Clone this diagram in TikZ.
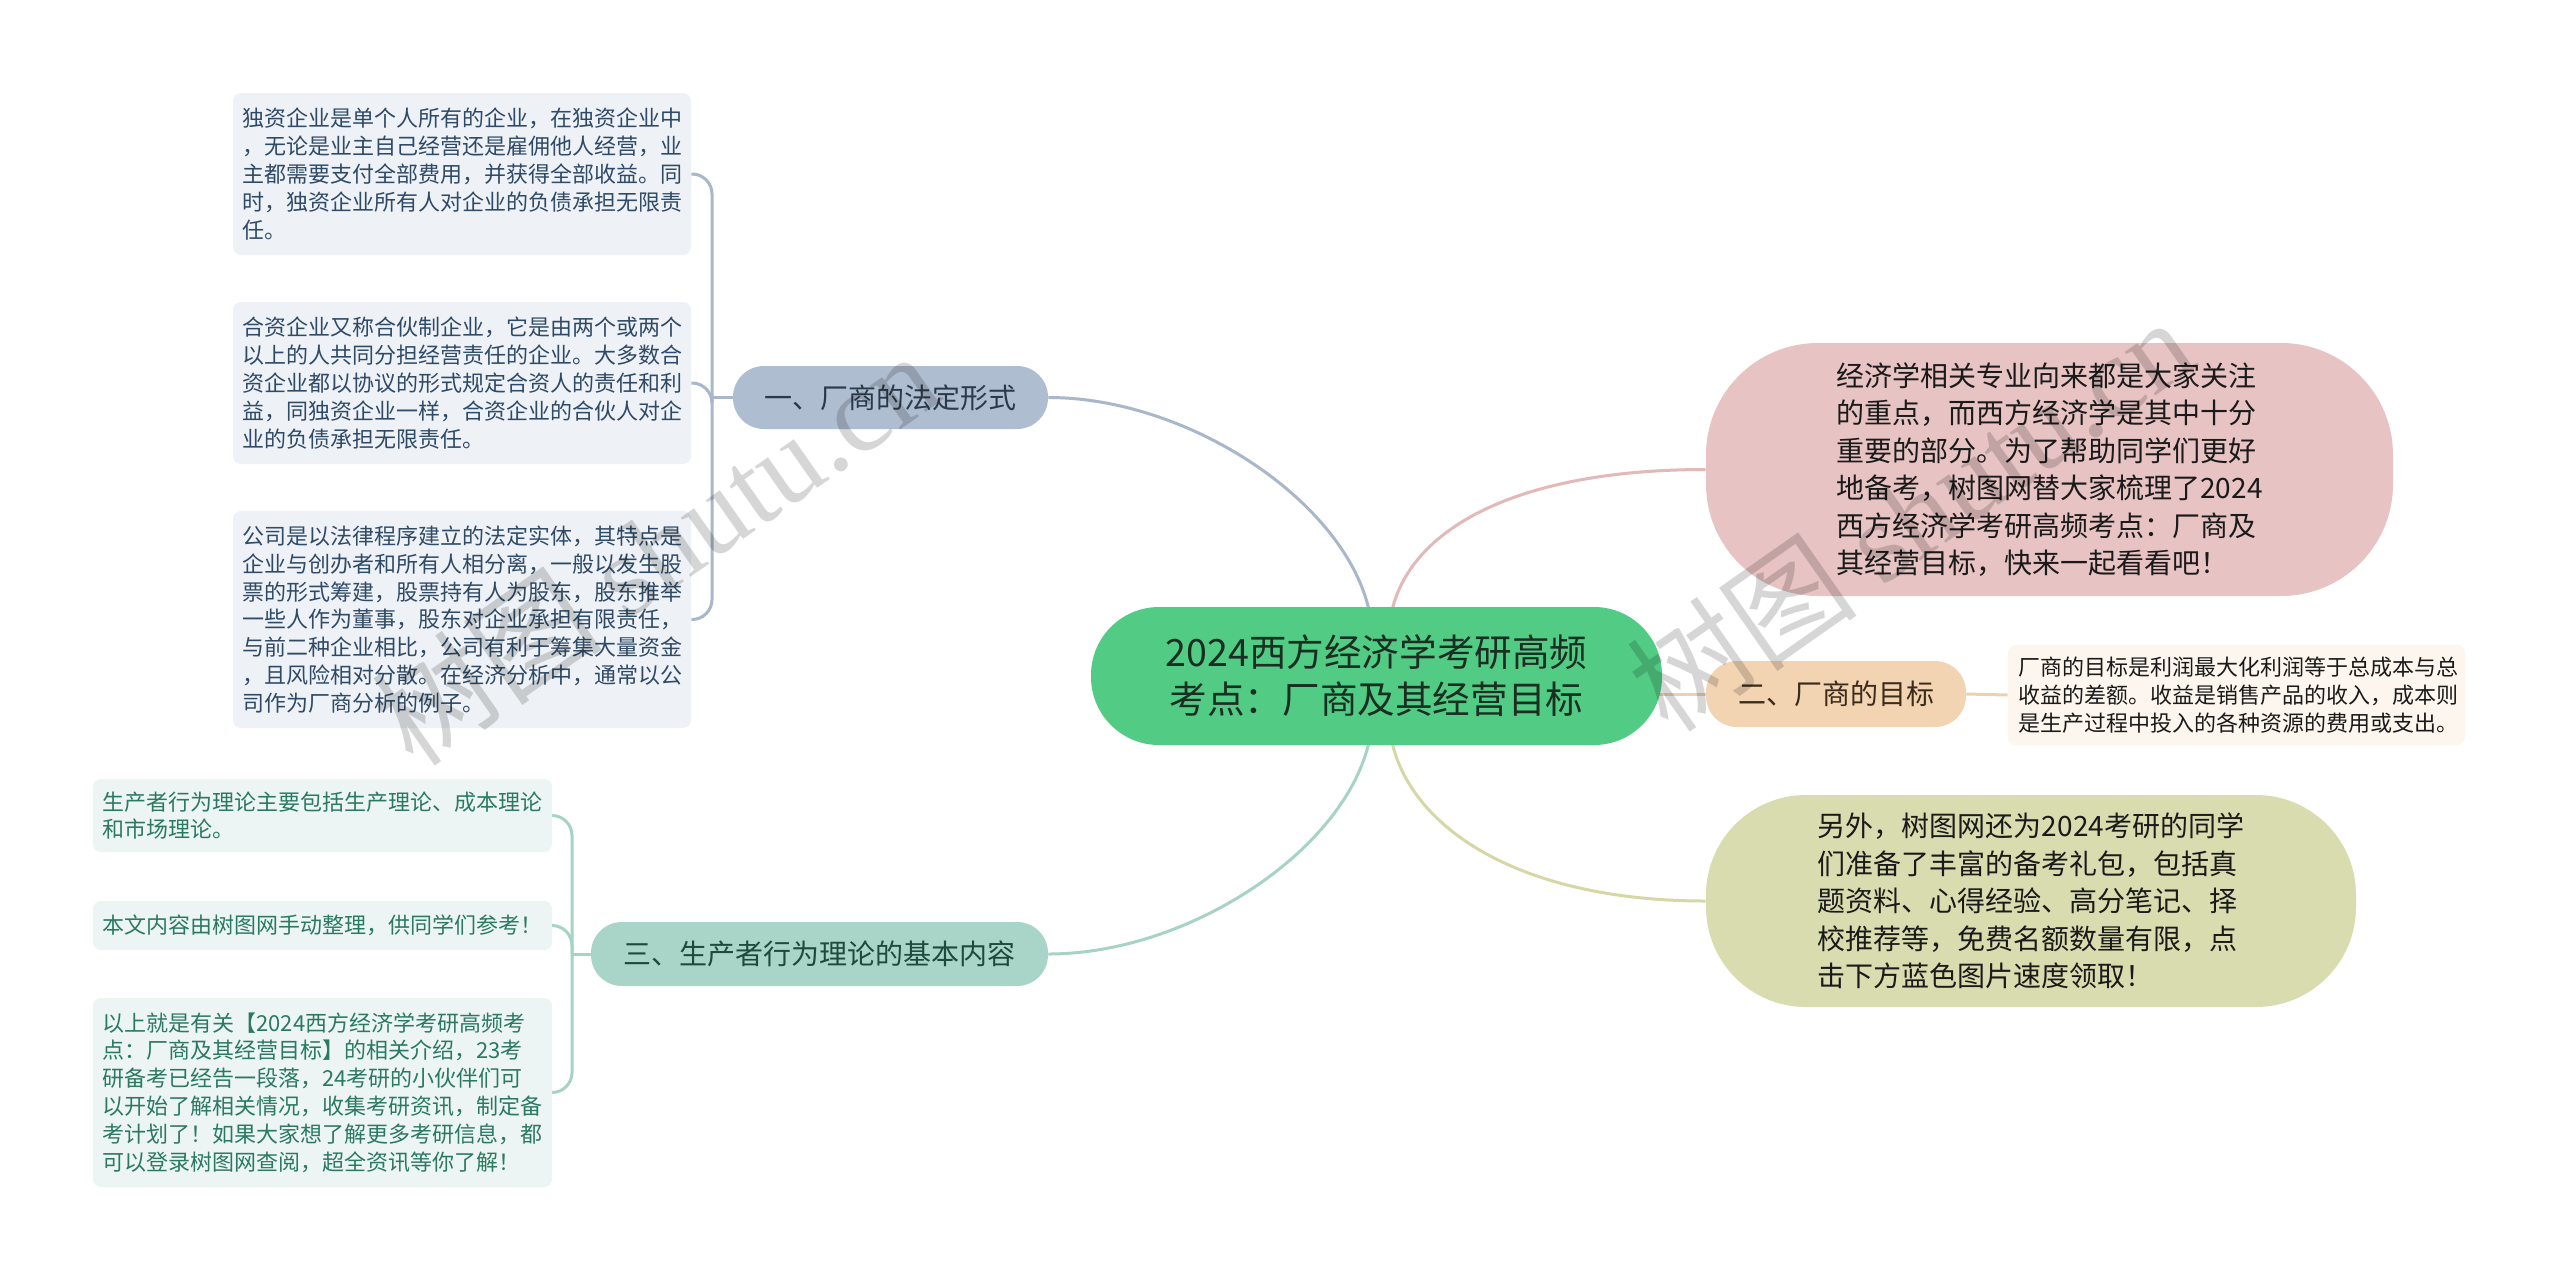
\documentclass[tikz,border=0pt]{standalone}
\usepackage{fontspec}
\setmainfont{Noto Sans CJK SC}
\newfontfamily\wmfont{Liberation Serif}
\usetikzlibrary{calc,backgrounds}
\definecolor{cenfill}{HTML}{52CB84}
\definecolor{centext}{HTML}{1B2E22}
\definecolor{bAfill}{HTML}{AEBDD0}
\definecolor{bAtext}{HTML}{2B3A4B}
\definecolor{bBfill}{HTML}{F2D4B2}
\definecolor{bBtext}{HTML}{3B2B1B}
\definecolor{bCfill}{HTML}{A9D5C9}
\definecolor{bCtext}{HTML}{1E4A3D}
\definecolor{pinkfill}{HTML}{E7C3C3}
\definecolor{gyfill}{HTML}{D9DCAE}
\definecolor{leafAfill}{HTML}{EEF2F6}
\definecolor{leafAtext}{HTML}{2F4A66}
\definecolor{leafCfill}{HTML}{ECF5F3}
\definecolor{leafCtext}{HTML}{2B7A60}
\definecolor{olfill}{HTML}{FDF6EE}
\definecolor{bodytext}{HTML}{1A1A1A}
\definecolor{lineA}{HTML}{A8B7CA}
\definecolor{lineC}{HTML}{A6D3C6}
\definecolor{linePink}{HTML}{E2B8B8}
\definecolor{lineB}{HTML}{EFD0AC}
\definecolor{lineGY}{HTML}{D5D8A6}
\newcommand\myleaffont{\fontsize{11pt}{13.9pt}\selectfont}
\newcommand\mybodyfont{\fontsize{14pt}{18.75pt}\selectfont}
\newcommand\mybranchfont{\fontsize{14pt}{17pt}\selectfont}
\newcommand\mycenfont{\fontsize{18.8pt}{23.5pt}\selectfont}
\tikzset{
  cenbox/.style={rectangle, rounded corners=34pt, fill=cenfill, text=centext, font=\mycenfont, align=center, minimum width=285.5pt, minimum height=69pt, inner sep=0pt},
  branchbox/.style={rectangle, rounded corners=15.5pt, font=\mybranchfont, align=center, inner sep=0pt, minimum height=32pt},
  bigbox/.style={rectangle, text=bodytext, font=\mybodyfont, align=left, inner sep=0pt},
  leafA/.style={rectangle, rounded corners=4pt, fill=leafAfill, text=leafAtext, font=\myleaffont, text width=220pt, align=left, inner xsep=4.5pt, inner ysep=0pt, minimum width=229pt},
  leafC/.style={rectangle, rounded corners=4pt, fill=leafCfill, text=leafCtext, font=\myleaffont, text width=220pt, align=left, inner xsep=4.7pt, inner ysep=0pt, minimum width=229.5pt},
  conn/.style={line width=1.5pt},
  wm/.style={text=black, text opacity=0.16, font=\fontsize{58pt}{60pt}\selectfont, inner sep=0pt}
}
\begin{document}
\begin{tikzpicture}[x=0.5pt,y=-0.5pt]
\useasboundingbox (0,0) rectangle (2560,1281);
% central
\node[cenbox] (cen) at (1376.5,676) {2024西方经济学考研高频\\考点：厂商及其经营目标};
% branches
\node[branchbox, fill=bAfill, text=bAtext, minimum width=157.5pt, minimum height=31.5pt] (b1) at (890.5,397.5) {一、厂商的法定形式};
\node[branchbox, fill=bBfill, text=bBtext, minimum width=130pt, minimum height=33pt] (b2) at (1836,694) {二、厂商的目标};
\node[branchbox, fill=bCfill, text=bCtext, minimum width=228.5pt, minimum height=32pt] (b3) at (819.5,954) {三、生产者行为理论的基本内容};
% right big boxes
\node[bigbox, fill=pinkfill, rounded corners=56pt, minimum width=343.5pt, minimum height=126.5pt] (pk) at (2049.5,469.5) {经济学相关专业向来都是大家关注\\的重点，而西方经济学是其中十分\\重要的部分。为了帮助同学们更好\\地备考，树图网替大家梳理了2024\\西方经济学考研高频考点：厂商及\\其经营目标，快来一起看看吧！};
\node[bigbox, fill=gyfill, rounded corners=50pt, minimum width=325pt, minimum height=106pt] (gy) at (2031,901) {另外，树图网还为2024考研的同学\\们准备了丰富的备考礼包，包括真\\题资料、心得经验、高分笔记、择\\校推荐等，免费名额数量有限，点\\击下方蓝色图片速度领取！};
% orange leaf
\node[rectangle, rounded corners=4pt, fill=olfill, text=bodytext, font=\myleaffont, text width=218pt, align=left, inner xsep=5.25pt, inner ysep=0pt, minimum height=50pt] (ol) at (2236.5,695) {厂商的目标是利润最大化利润等于总成本与总\\收益的差额。收益是销售产品的收入，成本则\\是生产过程中投入的各种资源的费用或支出。};
% leaves of branch 1
\node[leafA, minimum height=81pt] (l1a) at (462,174) {独资企业是单个人所有的企业，在独资企业中\\，无论是业主自己经营还是雇佣他人经营，业\\主都需要支付全部费用，并获得全部收益。同\\时，独资企业所有人对企业的负债承担无限责\\任。};
\node[leafA, minimum height=81pt] (l1b) at (462,383) {合资企业又称合伙制企业，它是由两个或两个\\以上的人共同分担经营责任的企业。大多数合\\资企业都以协议的形式规定合资人的责任和利\\益，同独资企业一样，合资企业的合伙人对企\\业的负债承担无限责任。};
\node[leafA, minimum height=108.5pt] (l1c) at (462,619.5) {公司是以法律程序建立的法定实体，其特点是\\企业与创办者和所有人相分离，一般以发生股\\票的形式筹建，股票持有人为股东，股东推举\\一些人作为董事，股东对企业承担有限责任，\\与前二种企业相比，公司有利于筹集大量资金\\，且风险相对分散。在经济分析中，通常以公\\司作为厂商分析的例子。};
% leaves of branch 3
\node[leafC, minimum height=36.5pt] (l3a) at (322.5,815.5) {生产者行为理论主要包括生产理论、成本理论\\和市场理论。};
\node[leafC, minimum height=24.5pt] (l3b) at (322.5,925.5) {本文内容由树图网手动整理，供同学们参考！};
\node[leafC, minimum height=94.5pt] (l3c) at (322.5,1092.5) {以上就是有关【2024西方经济学考研高频考\\点：厂商及其经营目标】的相关介绍，23考\\研备考已经告一段落，24考研的小伙伴们可\\以开始了解相关情况，收集考研资讯，制定备\\考计划了！如果大家想了解更多考研信息，都\\可以登录树图网查阅，超全资讯等你了解！};
% helper coordinates
\coordinate (T1) at (712,397.5);
\coordinate (T3) at (572,954);
\coordinate (cTL) at ($(cen.center)+(-4,-36)$);
\coordinate (cBL) at ($(cen.center)+(-4,36)$);
\coordinate (cTR) at ($(cen.center)+(12,-36)$);
\coordinate (cBR) at ($(cen.center)+(12,36)$);
\coordinate (cR) at (b2.west -| cen.center);
\begin{scope}[on background layer]
\fill[white] (0,0) rectangle (2560,1281);
\draw[conn, lineA] (b1.east) .. controls +(152,0) and +(0,-120) .. (cTL);
\draw[conn, lineC] (b3.east) .. controls +(152,0) and +(0,120) .. (cBL);
\draw[conn, linePink] (pk.west) .. controls +(-206,0) and +(0,-100) .. (cTR);
\draw[conn, lineGY] (gy.west) .. controls +(-206,0) and +(0,100) .. (cBR);
\draw[conn, lineB] (b2.west) -- (cR);
\draw[conn, lineB] (b2.east) -- (ol.west);
\draw[conn, lineA] (b1.west) -- (T1);
\draw[conn, lineA, rounded corners=10pt] (T1) |- (l1a.east);
\draw[conn, lineA, rounded corners=10pt] (T1) |- (l1b.east);
\draw[conn, lineA, rounded corners=10pt] (T1) |- (l1c.east);
\draw[conn, lineC] (b3.west) -- (T3);
\draw[conn, lineC, rounded corners=10pt] (T3) |- (l3a.east);
\draw[conn, lineC, rounded corners=10pt] (T3) |- (l3b.east);
\draw[conn, lineC, rounded corners=10pt] (T3) |- (l3c.east);
\end{scope}
% watermarks
\node[wm, rotate=35] (wm1) at (655,548) {树图 {\wmfont shutu.cn}};
\node[wm, rotate=35] (wm2) at (1910,514) {树图 {\wmfont shutu.cn}};
\end{tikzpicture}
\end{document}
